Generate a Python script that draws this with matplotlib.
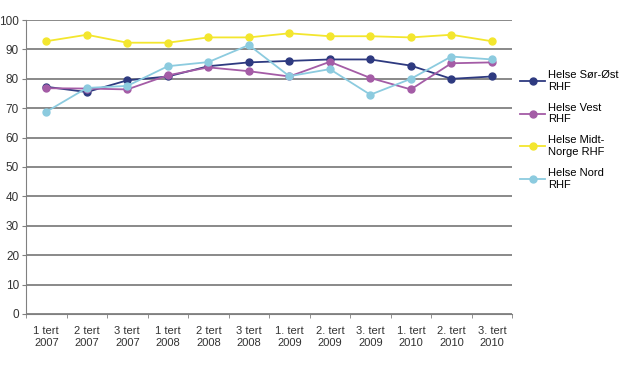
import numpy as np
import matplotlib.pyplot as plt

labels = ["1 tert\n2007", "2 tert\n2007", "3 tert\n2007", "1 tert\n2008", "2 tert\n2008",
          "3 tert\n2008", "1. tert\n2009", "2. tert\n2009", "3. tert\n2009", "1. tert\n2010",
          "2. tert\n2010", "3. tert\n2010"]

sor_ost = [77.3, 75.5, 79.5, 80.8, 84.3, 85.6, 86.1, 86.6, 86.6, 84.5, 80.0, 80.8]
vest = [76.8, 76.7, 76.4, 81.2, 83.9, 82.6, 80.8, 85.8, 80.3, 76.4, 85.3, 85.6]
midt_norge = [92.8, 95.0, 92.3, 92.3, 94.1, 94.1, 95.5, 94.5, 94.5, 94.1, 95.0, 92.8]
nord = [68.8, 76.9, 77.6, 84.3, 85.7, 91.5, 80.9, 83.3, 74.6, 80.0, 87.6, 86.6]

series = [
    ("Helse Sør-Øst\nRHF", sor_ost, "#2e3a80"),
    ("Helse Vest\nRHF", vest, "#a45ca6"),
    ("Helse Midt-\nNorge RHF", midt_norge, "#f3e62e"),
    ("Helse Nord\nRHF", nord, "#8ccbdf"),
]

plt.rcParams['font.family'] = ['Liberation Sans', 'DejaVu Sans']

fig = plt.figure(figsize=(6.2, 3.65), dpi=100)
ax = fig.add_axes([0.042, 0.14, 0.784, 0.805])

x = np.arange(len(labels))
for name, vals, col in series:
    ax.plot(x, vals, color=col, lw=1.3, marker='o', ms=5, label=name, zorder=3)

ax.set_xlim(-0.5, len(labels) - 0.5)
ax.set_ylim(0, 100)
ax.set_yticks(range(0, 101, 10))
ax.yaxis.grid(True, color='#808080', lw=1.3)
ax.set_axisbelow(True)
ax.set_xticks(x)
ax.set_xticklabels(labels, fontsize=8, color='#333333')
ax.set_xticks(np.arange(-0.5, len(labels)), minor=True)
ax.tick_params(axis='x', which='major', length=0, pad=9)
ax.tick_params(axis='x', which='minor', length=3, color='#808080')
ax.tick_params(axis='y', length=3, color='#808080', labelsize=8.5, labelcolor='#333333', pad=2)

for s in ['top', 'right']:
    ax.spines[s].set_visible(False)
ax.spines['left'].set_color('#808080')
ax.spines['bottom'].set_color('#808080')

ax.legend(loc='upper left', bbox_to_anchor=(1.008, 0.845), frameon=False, fontsize=8,
          handlelength=2.2, handletextpad=0.25, labelspacing=1.0, borderaxespad=0)

fig.savefig("out.png", dpi=100)
